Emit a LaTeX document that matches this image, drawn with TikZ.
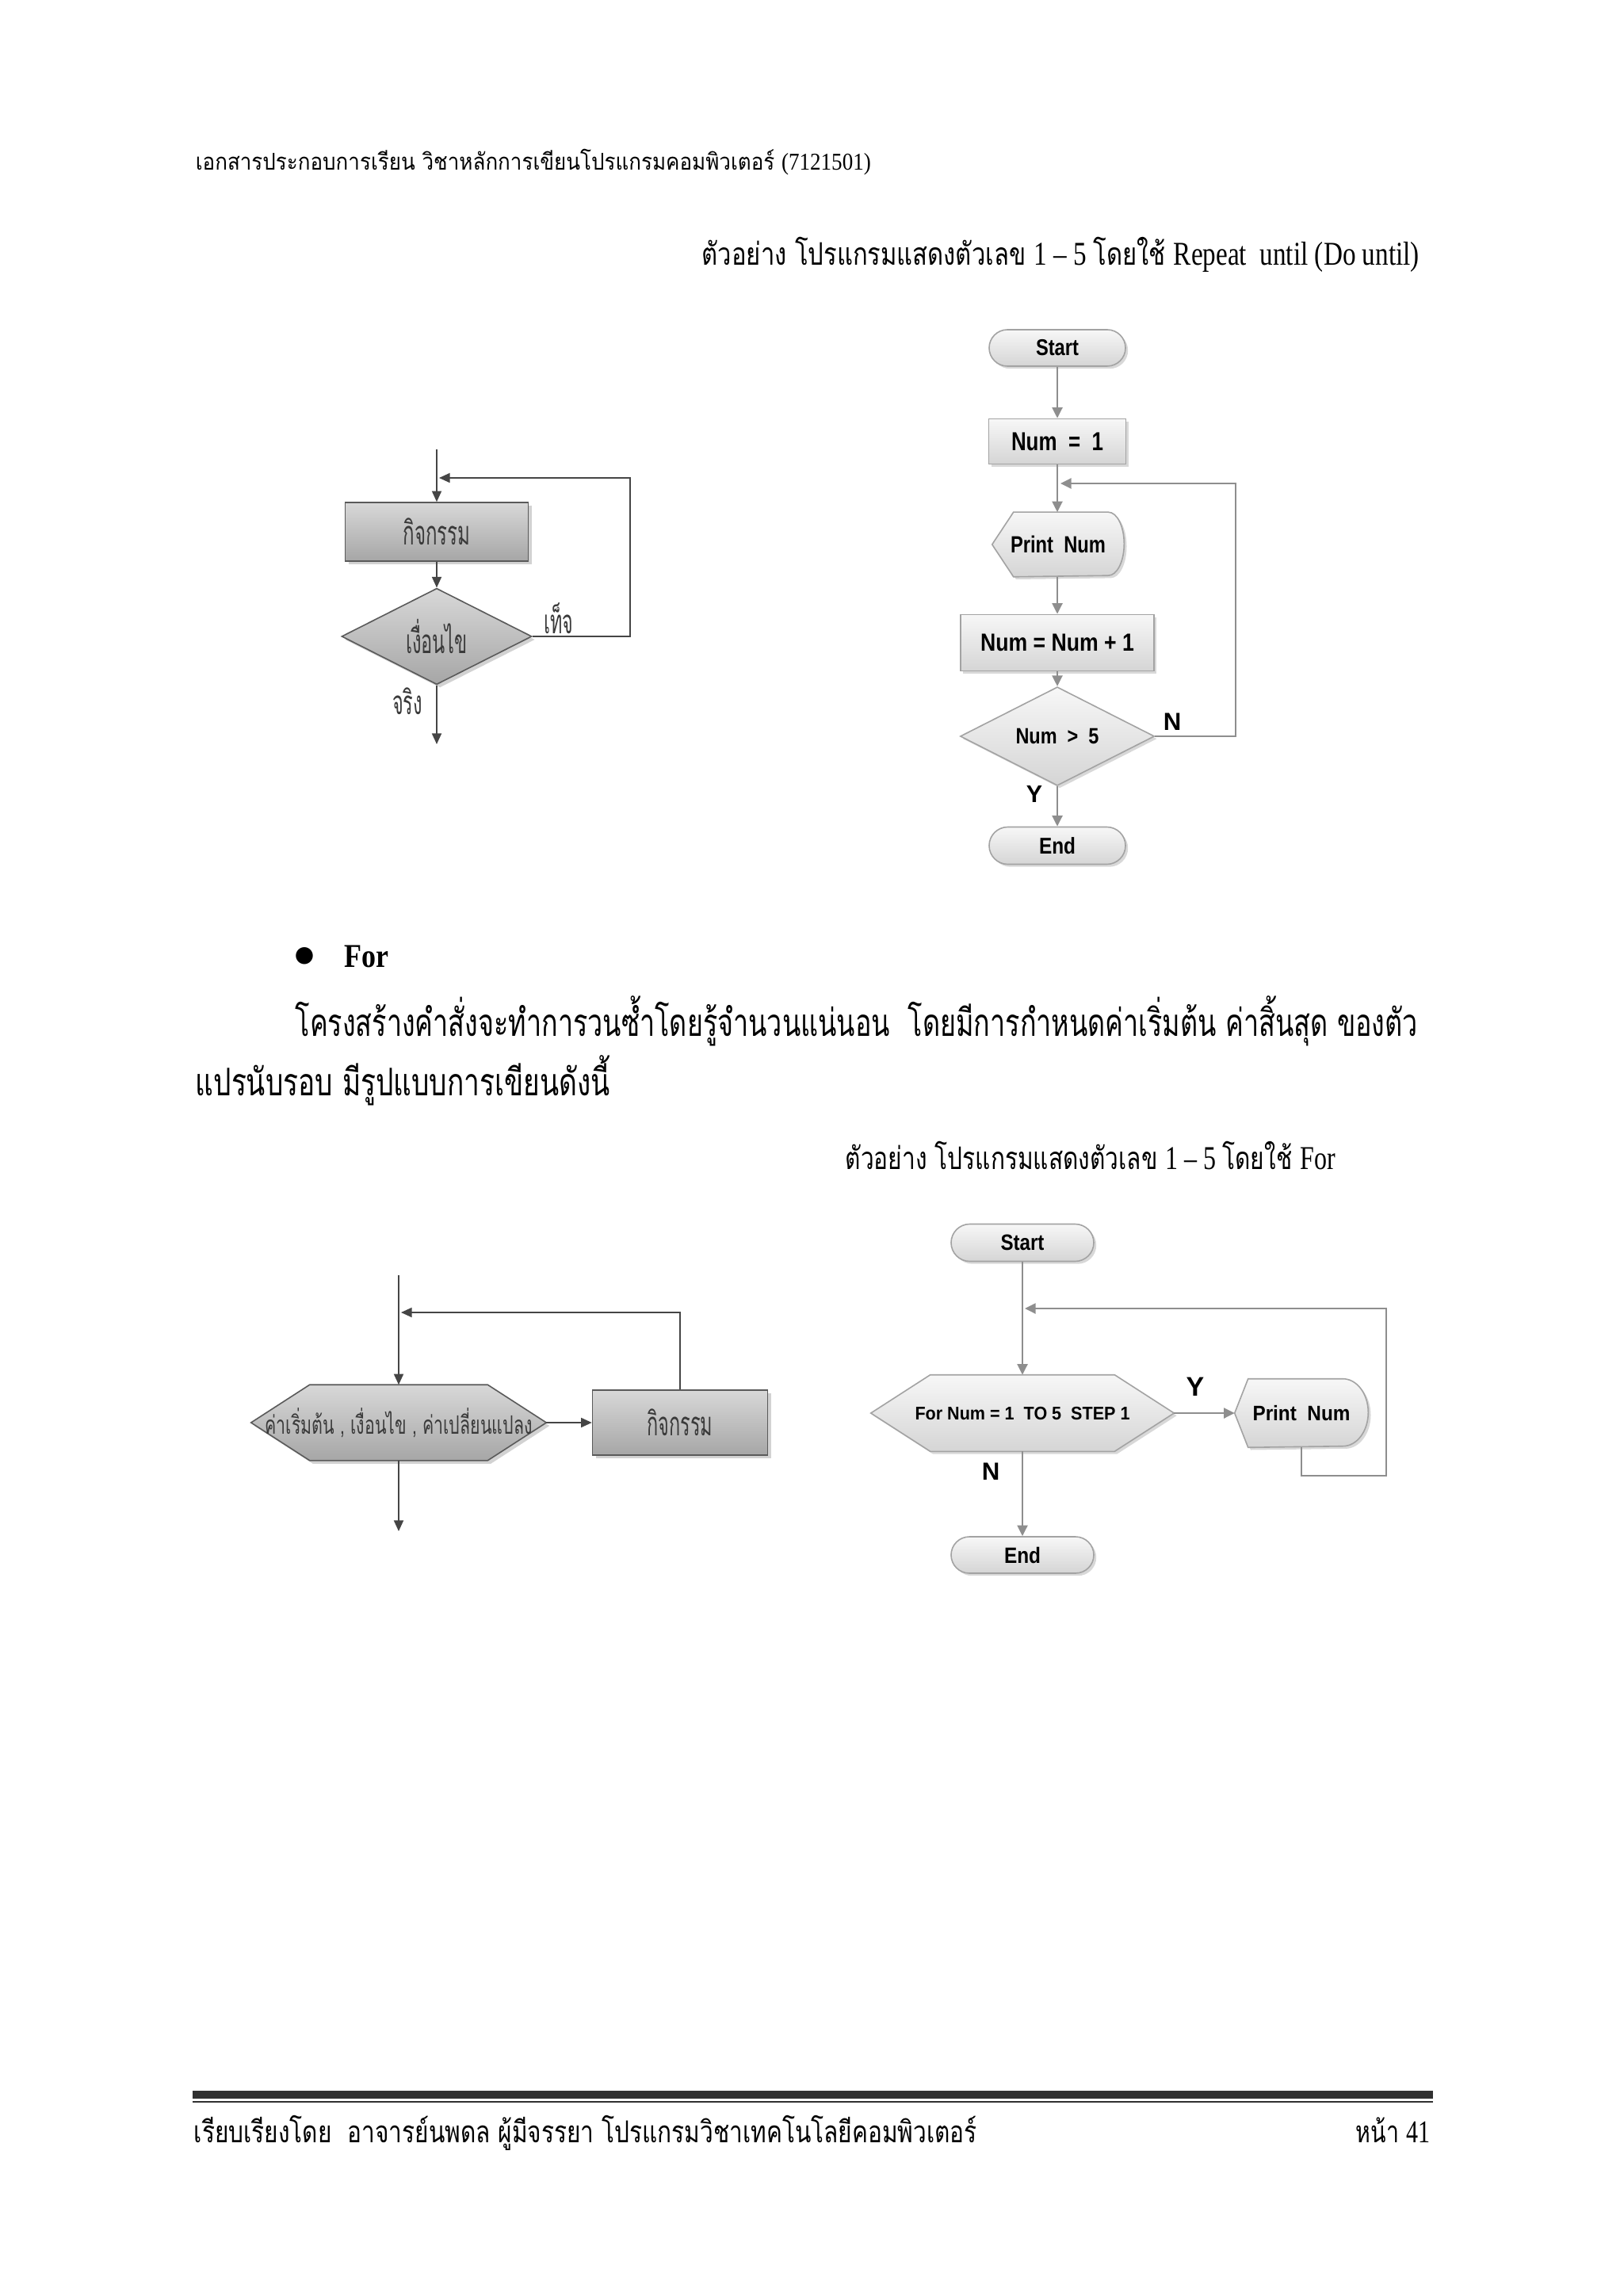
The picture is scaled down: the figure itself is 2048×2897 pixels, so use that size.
\documentclass[tikz,border=0pt]{standalone}
\usepackage{fontspec}
\usepackage{graphicx}
\setmainfont{Liberation Serif}
\newfontfamily\thaif[Script=Thai]{Loma}
\newfontfamily\sansf{Liberation Sans}
\newfontfamily\symf{DejaVu Sans}
\usetikzlibrary{arrows.meta,shapes.geometric,shapes.misc,shadows,calc,backgrounds}
\newlength\fwl
\newcommand\fw[2]{\pgfmathsetlength\fwl{#1*0.25pt}\resizebox{\fwl}{\height}{#2}}
\newcommand\fs[1]{\fontsize{#1}{#1}\selectfont}
\definecolor{lline}{HTML}{454545}
\definecolor{lborder}{HTML}{5A5A5A}
\definecolor{ltop}{HTML}{D8D8D8}
\definecolor{lbot}{HTML}{A6A6A6}
\definecolor{rline}{HTML}{8E8E8E}
\definecolor{rborder}{HTML}{A3A3A3}
\definecolor{rtop}{HTML}{F7F7F7}
\definecolor{rbot}{HTML}{D5D5D5}
\definecolor{ltext}{HTML}{3A3A3A}
\definecolor{rulec}{HTML}{303030}
\tikzset{
 lshape/.style={draw=lborder, line width=0.4pt, top color=ltop, bottom color=lbot,
   drop shadow={shadow xshift=1pt, shadow yshift=-1pt, opacity=0.35}},
 rshape/.style={draw=rborder, line width=0.4pt, top color=rtop, bottom color=rbot,
   drop shadow={shadow xshift=0.8pt, shadow yshift=-0.8pt, opacity=0.3}},
 larr/.style={draw=lline, line width=0.45pt, -{Triangle[length=3.4pt,width=3pt]}},
 rarr/.style={draw=rline, line width=0.7pt, -{Triangle[length=3.4pt,width=3.2pt]}},
 txt/.style={inner sep=0pt, anchor=base west},
 lbl/.style={inner sep=0pt, anchor=center},
 ghost/.style={inner sep=0pt, draw=none, rectangle},
 ltxt/.style={text=ltext, font=\thaif\fs{10.5pt}},
 r1txt/.style={text=black, font=\sansf\bfseries},
}
\begin{document}
\begin{tikzpicture}[x=0.25pt,y=-0.25pt]
\useasboundingbox (0,0) rectangle (2048,2897);
\begin{scope}[on background layer]
\fill[white] (0,0) rectangle (2048,2897);
\end{scope}

% ---------- page texts ----------
\node[txt] (hdr) at (246,215) {\fw{852}{\thaif\fs{7.3pt}เอกสารประกอบการเรียน วิชาหลักการเขียนโปรแกรมคอมพิวเตอร์ \rmfamily\fs{7.6pt}(7121501)}};
\node[txt] (ti1) at (885,335) {\fw{905}{\thaif\fs{9.8pt}ตัวอย่าง โปรแกรมแสดงตัวเลข \rmfamily\fs{10.5pt}1 – 5 \thaif\fs{9.8pt}โดยใช้ \rmfamily\fs{10.5pt}Repeat\ \ until (Do until)}};
\node[lbl] (bul) at (384,1206) {\symf\fs{7pt}●};
\node[txt] (for) at (434,1220) {\fw{56}{\rmfamily\bfseries\fs{10.5pt}For}};
\node[txt] (pa1) at (372,1307) {\fw{1416}{\thaif\fs{12pt}โครงสร้างคำสั่งจะทำการวนซ้ำโดยรู้จำนวนแน่นอน\ \ โดยมีการกำหนดค่าเริ่มต้น ค่าสิ้นสุด ของตัว}};
\node[txt] (pa2) at (246,1382) {\fw{523}{\thaif\fs{12pt}แปรนับรอบ มีรูปแบบการเขียนดังนี้}};
\node[txt] (ti2) at (1066,1475) {\fw{618}{\thaif\fs{9.8pt}ตัวอย่าง โปรแกรมแสดงตัวเลข \rmfamily\fs{10.5pt}1 – 5 \thaif\fs{9.8pt}โดยใช้ \rmfamily\fs{10.5pt}For}};
\fill[rulec] (243,2638) rectangle (1808,2648);
\draw[rulec, line width=0.5pt] (243,2652) -- (1808,2652);
\node[txt] (ft) at (244,2703) {\fw{988}{\thaif\fs{9.5pt}เรียบเรียงโดย\ \ อาจารย์นพดล ผู้มีจรรยา โปรแกรมวิชาเทคโนโลยีคอมพิวเตอร์}};
\node[txt] (pg) at (1710,2703) {\fw{94}{\thaif\fs{9.5pt}หน้า \rmfamily\fs{10pt}41}};

% ---------- left chart 1 (repeat until) ----------
\node[rectangle, lshape, ltxt, minimum width=231*0.25pt, minimum height=74*0.25pt, inner sep=0pt] (b1) at (551,671) {\fw{85}{กิจกรรม}};
\node[diamond, lshape, ltxt, minimum width=240*0.25pt, minimum height=113*0.25pt, inner sep=0pt] (d1) at (551,803) {\fw{78}{เงื่อนไข}};
\coordinate (t1) at (551,567);
\coordinate (j1) at (554,603);
\coordinate (c1) at (795,603);
\coordinate (o1) at (551,939);
\draw[larr] (t1) -- (b1.north);
\draw[larr] (b1.south) -- (d1.north);
\draw[larr] (d1.east) -| (c1) -- (j1);
\draw[larr] (d1.south) -- (o1);
\node[lbl, ltxt] (f1) at (705,780) {\fw{37}{เท็จ}};
\node[lbl, ltxt] (tr1) at (514,885) {\fw{38}{จริง}};

% ---------- right chart 1 ----------
\node[rounded rectangle, rshape, r1txt, minimum width=172*0.25pt, minimum height=46*0.25pt, inner sep=0pt] (s1) at (1334,439) {\fw{54}{\fs{7.2pt}Start}};
\node[rectangle, rshape, r1txt, minimum width=173*0.25pt, minimum height=57*0.25pt, inner sep=0pt] (n1) at (1334,557) {\fw{116}{\fs{8.2pt}Num\ \ =\ \ 1}};
\node[ghost, r1txt, minimum width=165*0.25pt, minimum height=80*0.25pt] (p1) at (1335,687) {\fw{120}{\fs{7.4pt}Print\ \ Num}};
\node[rectangle, rshape, r1txt, minimum width=244*0.25pt, minimum height=71*0.25pt, inner sep=0pt] (a1) at (1334,811) {\fw{194}{\fs{7.8pt}Num = Num + 1}};
\node[diamond, rshape, r1txt, minimum width=245*0.25pt, minimum height=94*0.25pt, inner sep=0pt] (d2) at (1334,929) {\fw{105}{\fs{7pt}Num\ \ >\ \ 5}};
\node[rounded rectangle, rshape, r1txt, minimum width=172*0.25pt, minimum height=47*0.25pt, inner sep=0pt] (e1) at (1334,1067) {\fw{46}{\fs{7.2pt}End}};
\begin{scope}[on background layer]
\path[rshape] (p1.west) -- ($(p1.north west)+(27,0)$) -- ($(p1.north east)+(-20,0)$)
  arc[start angle=90,end angle=-90,x radius=5pt,y radius=10pt]
  -- ($(p1.south west)+(27,0)$) -- cycle;
\end{scope}
\coordinate (j2) at (1338,610);
\coordinate (c2) at (1559,610);
\draw[rarr] (s1.south) -- (n1.north);
\draw[rarr] (n1.south) -- (n1.south |- p1.north);
\draw[rarr] (p1.south -| a1.north) -- (a1.north);
\draw[rarr] (a1.south) -- (d2.north);
\draw[rarr] (d2.east) -| (c2) -- (j2);
\draw[rarr] (d2.south) -- (e1.north);
\node[lbl, r1txt] (nl1) at (1479,911) {\fs{7.8pt}N};
\node[lbl, r1txt] (yl1) at (1305,1002) {\fs{7.6pt}Y};

% ---------- left chart 2 (for) ----------
\node[ghost, ltxt, minimum width=371*0.25pt, minimum height=94*0.25pt] (hx1) at (503,1795) {\fw{337}{\fs{8pt}ค่าเริ่มต้น , เงื่อนไข , ค่าเปลี่ยนแปลง}};
\node[rectangle, lshape, ltxt, minimum width=221*0.25pt, minimum height=82*0.25pt, inner sep=0pt] (b3) at (858,1795) {\fw{83}{กิจกรรม}};
\begin{scope}[on background layer]
\path[lshape] (hx1.west) -- ($(hx1.north west)+(74,0)$) -- ($(hx1.north east)+(-74,0)$)
  -- (hx1.east) -- ($(hx1.south east)+(-74,0)$) -- ($(hx1.south west)+(74,0)$) -- cycle;
\end{scope}
\coordinate (t3) at (503,1609);
\coordinate (j3) at (506,1656);
\coordinate (c3) at (858,1656);
\coordinate (o3) at (503,1932);
\draw[larr] (t3) -- (hx1.north);
\draw[larr] (hx1.east) -- (b3.west);
\draw[larr] (b3.north) -- (c3) -- (j3);
\draw[larr] (hx1.south) -- (o3);

% ---------- right chart 2 ----------
\node[rounded rectangle, rshape, r1txt, minimum width=180*0.25pt, minimum height=47*0.25pt, inner sep=0pt] (s2) at (1290,1568) {\fw{55}{\fs{7pt}Start}};
\node[ghost, r1txt, minimum width=381*0.25pt, minimum height=95*0.25pt] (hx2) at (1290,1783) {\fw{271}{\fs{5.8pt}For Num = 1\ \ TO 5\ \ STEP 1}};
\node[ghost, r1txt, minimum width=167*0.25pt, minimum height=85*0.25pt] (p2) at (1642,1783) {\fw{123}{\fs{6.6pt}Print\ \ Num}};
\node[rounded rectangle, rshape, r1txt, minimum width=180*0.25pt, minimum height=46*0.25pt, inner sep=0pt] (e2) at (1290,1962) {\fw{46}{\fs{7pt}End}};
\begin{scope}[on background layer]
\path[rshape] (hx2.west) -- ($(hx2.north west)+(75,0)$) -- ($(hx2.north east)+(-75,0)$)
  -- (hx2.east) -- ($(hx2.south east)+(-75,0)$) -- ($(hx2.south west)+(75,0)$) -- cycle;
\path[rshape] (p2.west) -- ($(p2.north west)+(17,0)$) -- ($(p2.north east)+(-32,0)$)
  arc[start angle=90,end angle=-90,x radius=8pt,y radius=10.625pt]
  -- ($(p2.south west)+(17,0)$) -- cycle;
\end{scope}
\coordinate (j4) at (1293,1651);
\coordinate (c4) at (1749,1651);
\coordinate (c5) at (1642,1862);
\draw[rarr] (s2.south) -- (hx2.north);
\draw[rarr] (hx2.east) -- (p2.west);
\draw[rarr] (p2.south) -- (c5) -| (c4) -- (j4);
\draw[rarr] (hx2.south) -- (e2.north);
\node[lbl, r1txt] (yl2) at (1508,1750) {\fs{8.5pt}Y};
\node[lbl, r1txt] (nl2) at (1250,1857) {\fs{7.8pt}N};
\end{tikzpicture}
\end{document}
